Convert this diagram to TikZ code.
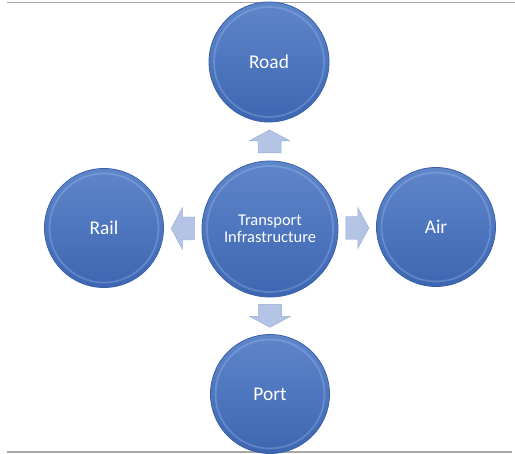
\documentclass[tikz,border=0pt]{standalone}
\usepackage{fontspec}
\setmainfont{Carlito}
\usetikzlibrary{calc}
\definecolor{bubbleEdge}{HTML}{3A5FA6}
\definecolor{bubbleTop}{HTML}{5F86CB}
\definecolor{bubbleBot}{HTML}{3D66B2}
\definecolor{rimLight}{HTML}{A9C6EE}
\definecolor{arrowFill}{HTML}{B4C4E4}
\definecolor{arrowEdge}{HTML}{98ACD6}
\definecolor{frameGray}{HTML}{A8A8A8}
\tikzset{
  bubble/.style={circle, inner sep=0pt, minimum size=#1, draw=bubbleEdge, line width=0.8pt,
    top color=bubbleTop, bottom color=bubbleBot, text=white, align=center,
    path picture={\draw[rimLight, line width=1.8pt, opacity=0.3]
      (path picture bounding box.center) circle[radius=#1/2-5bp];}},
  outerlabel/.style={font=\fontsize{19.5}{22}\selectfont},
  innerlabel/.style={font=\fontsize{16.5}{17.5}\selectfont},
  arrowshape/.style={fill=arrowFill, draw=arrowEdge, line width=0.5pt, line join=miter},
  blockarrow/.pic={\path[arrowshape] (-11.5,-11.5) -- (0.5,-11.5) -- (0.5,-20.5) -- (11.5,0)
      -- (0.5,20.5) -- (0.5,11.5) -- (-11.5,11.5) -- cycle;},
  frameline/.style={draw=frameGray, line width=1.1pt}
}
\begin{document}
\begin{tikzpicture}[x=1bp, y=-1bp]
\useasboundingbox (0,0) rectangle (515,454);
\coordinate (tl) at (7,2.5);
\coordinate (tr) at (515,2.5);
\coordinate (bl) at (7,452);
\coordinate (br) at (512,452);
\draw[frameline] (tl) -- (tr);
\draw[frameline] (bl) -- (br);

\node[bubble=136bp, innerlabel] (c) at (270,229) {Transport\\Infrastructure};
\node[bubble=120bp, outerlabel] (road) at (269,62) {Road};
\node[bubble=119bp, outerlabel] (rail) at (104,228) {Rail};
\node[bubble=119bp, outerlabel] (air) at (436,227) {Air};
\node[bubble=119bp, outerlabel] (port) at (270,394) {Port};

\pic[rotate=90] at ($(c.north)!0.5!(road.south)$) {blockarrow};
\pic[rotate=180] at ($(c.west)!0.5!(rail.east)$) {blockarrow};
\pic at ($(c.east)!0.5!(air.west)$) {blockarrow};
\pic[rotate=-90] at ($(c.south)!0.5!(port.north)$) {blockarrow};
\end{tikzpicture}
\end{document}
